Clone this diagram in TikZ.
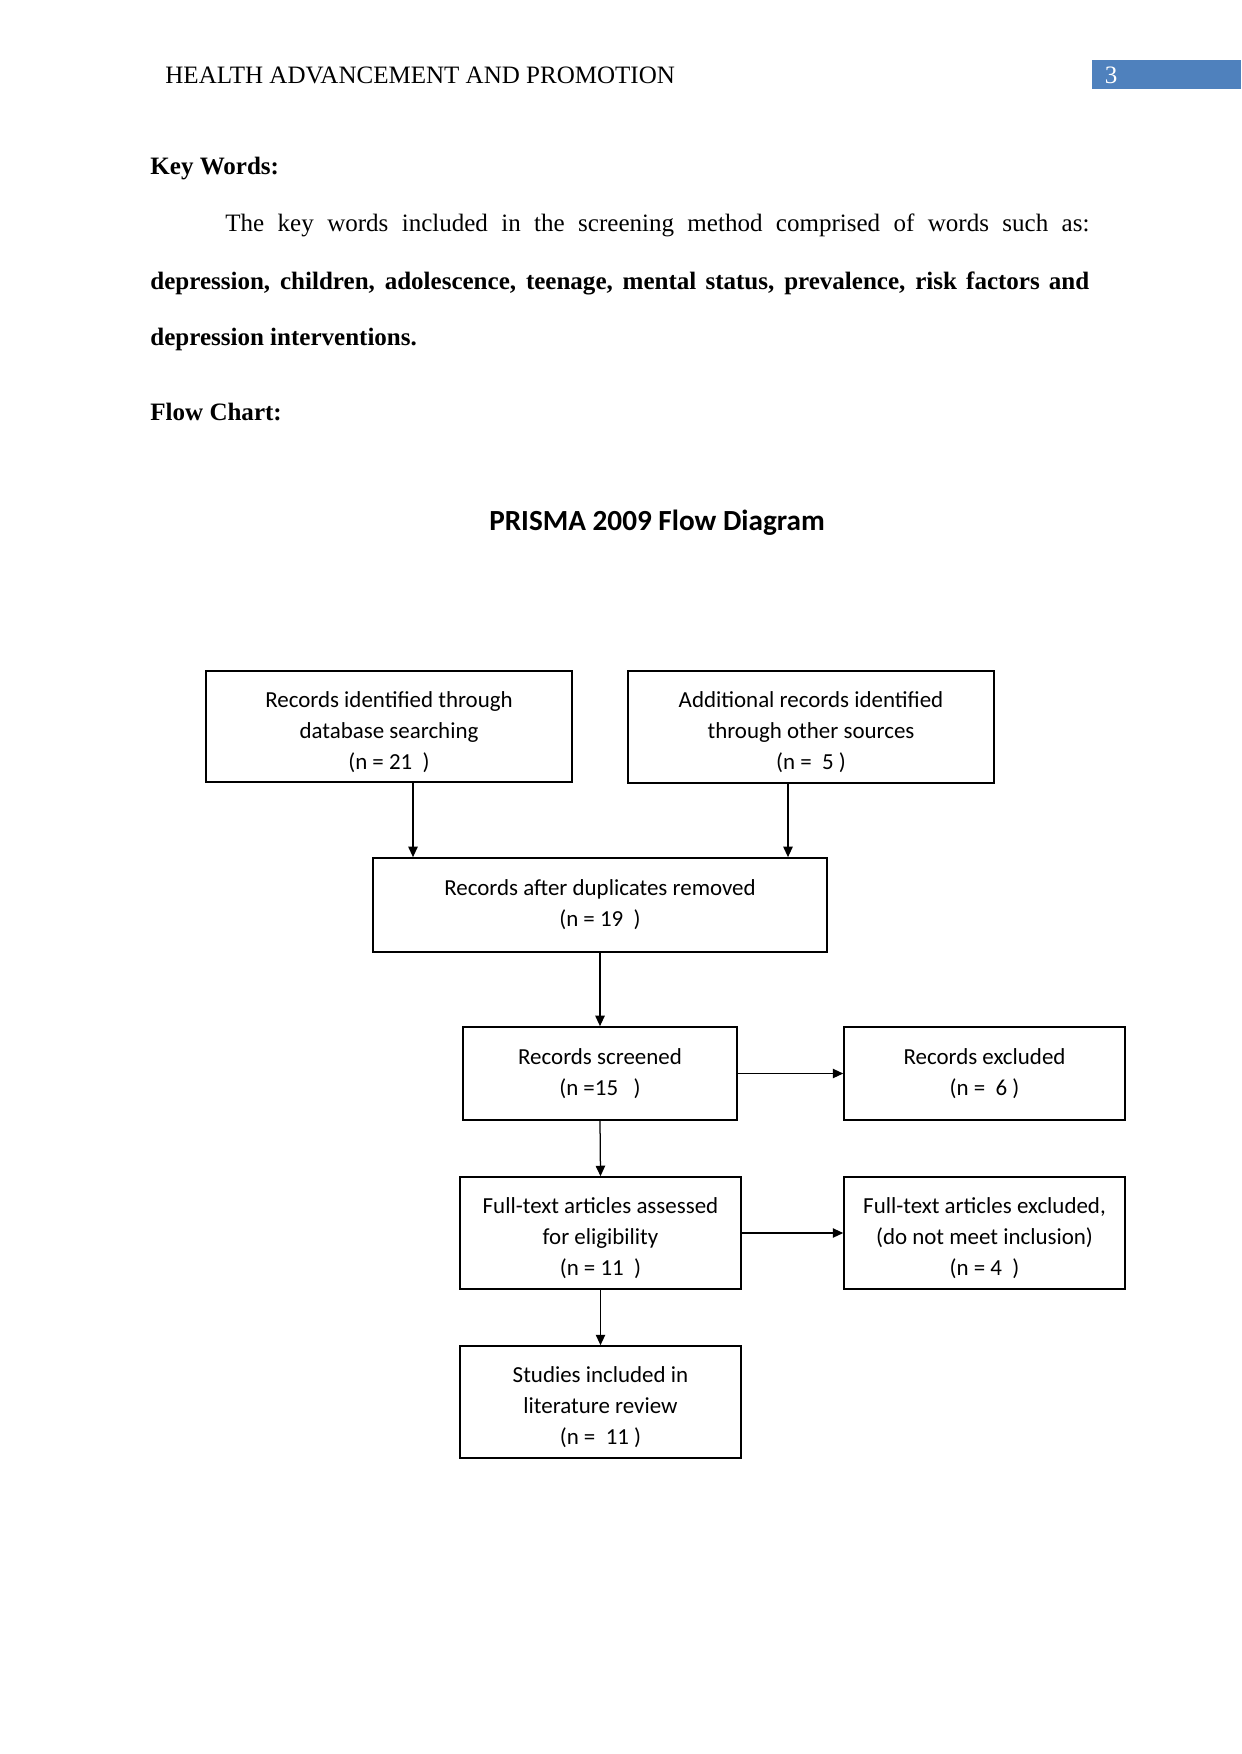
\documentclass[tikz,border=0pt]{standalone}
\usepackage{fontspec}
\setmainfont{Liberation Serif}
\newfontfamily\calfont{Carlito}
\usetikzlibrary{arrows.meta,calc}
\definecolor{hdrblue}{HTML}{4F81BD}
\newcommand\lowtxt[1]{\raisebox{-2.6pt}[\height][\depth]{\begin{tabular}{@{}c@{}}#1\end{tabular}}}
\begin{document}
\begin{tikzpicture}[x=0.4795pt,y=-0.4795pt,
  box/.style={draw, line width=0.8pt, font=\calfont\fontsize{11}{14.9}\selectfont, align=center, inner sep=0pt},
  arr/.style={line width=0.6pt, -{Triangle[length=5pt,width=4.5pt]}},
  txt/.style={anchor=base west, inner sep=0pt, font=\fontsize{12}{14}\selectfont}]
\useasboundingbox (0,0) rectangle (1241,1754);
% header
\node[txt] (hdr) at (165,84) {HEALTH ADVANCEMENT AND PROMOTION};
\fill[hdrblue] (1092,60) rectangle (1241,89);
\node[txt, anchor=base, text=white] (pg) at (1111,84) {3};
% body text
\node[txt, font=\fontsize{12}{14}\selectfont\bfseries] (kw) at (150,175) {Key Words:};
\node[txt] (l1) at (225,232) {\makebox[414.3pt][s]{The key words included in the screening method comprised of words such as:}};
\node[txt, font=\fontsize{12}{14}\selectfont\bfseries] (l2) at (150,290) {\makebox[450.2pt][s]{depression, children, adolescence, teenage, mental status, prevalence, risk factors and}};
\node[txt, font=\fontsize{12}{14}\selectfont\bfseries] (l3) at (150,346) {depression interventions.};
\node[txt, font=\fontsize{12}{14}\selectfont\bfseries] (fc) at (150,421) {Flow Chart:};
% title
\node[anchor=base, inner sep=0pt, font=\calfont\bfseries\fontsize{14}{17}\selectfont] (title) at (657,530) {PRISMA 2009 Flow Diagram};
% boxes
\node[box, minimum width=175.5pt, minimum height=53.2pt] (b1) at (389,726.5) {\lowtxt{Records identified through\\database searching\\(n = 21\ \ )}};
\node[box, minimum width=175.5pt, minimum height=53.7pt] (b2) at (811,727) {\lowtxt{Additional records identified\\through other sources\\(n = \ 5 )}};
\node[box, minimum width=217.7pt, minimum height=45.1pt] (b3) at (600,905) {Records after duplicates removed\\(n = 19\ \ )};
\node[box, minimum width=131.4pt, minimum height=44.6pt] (b4) at (600,1073.5) {Records screened\\(n =15 \ \ )};
\node[box, minimum width=134.7pt, minimum height=44.6pt] (b5) at (984.5,1073.5) {Records excluded\\(n = \ 6 )};
\node[box, minimum width=134.7pt, minimum height=53.7pt] (b6) at (600.5,1233) {\lowtxt{Full-text articles assessed\\for eligibility\\(n = 11\ \ )}};
\node[box, minimum width=134.7pt, minimum height=53.7pt] (b7) at (984.5,1233) {\lowtxt{Full-text articles excluded,\\(do not meet inclusion)\\(n = 4\ \ )}};
\node[box, minimum width=134.7pt, minimum height=53.7pt] (b8) at (600.5,1402) {\lowtxt{Studies included in\\literature review\\(n = \ 11 )}};
% connectors
\coordinate (a1) at ($(b1.south)+(24,0)$);
\coordinate (a2) at ($(b2.south)+(-23,0)$);
\draw[arr] (a1) -- (a1 |- b3.north);
\draw[arr] (a2) -- (a2 |- b3.north);
\draw[arr] (b3.south) -- (b4.north);
\draw[arr] (b4.east) -- (b5.west);
\draw[arr] (b4.south) -- (b6.north);
\draw[arr] (b6.east) -- (b7.west);
\draw[arr] (b6.south) -- (b8.north);
\end{tikzpicture}
\end{document}
